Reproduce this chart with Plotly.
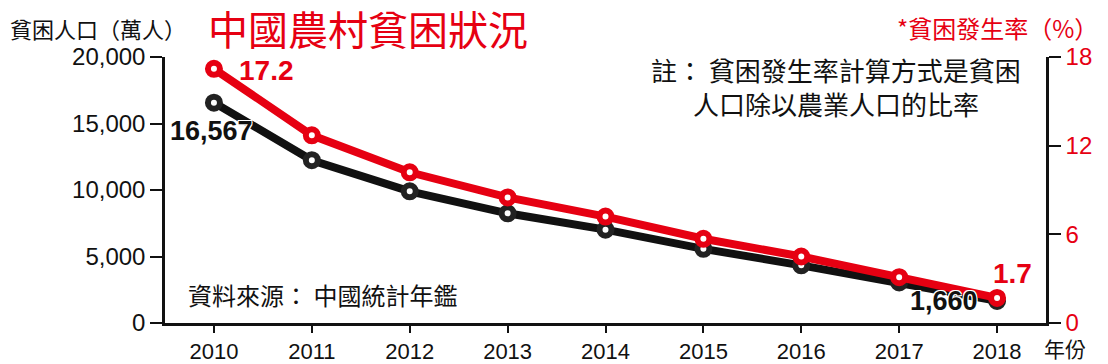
import plotly.graph_objects as go

years = [2010, 2011, 2012, 2013, 2014, 2015, 2016, 2017, 2018]
poverty_pop = [16567, 12238, 9899, 8249, 7017, 5575, 4335, 3046, 1660]
poverty_rate = [17.2, 12.7, 10.2, 8.5, 7.2, 5.7, 4.5, 3.1, 1.7]
left_ticks = [0, 5000, 10000, 15000, 20000]
right_ticks = [0, 6, 12, 18]

RED = "#e60012"
BLACK = "#111111"
W, H = 1108, 364
L, R, T, B = 165, 62, 57, 41
PW, PH = W - L - R, H - T - B

def px(x):
    return (x - L) / PW

def py(y):
    return (H - B - y) / PH

CJK = "Noto Sans CJK TC, sans-serif"
NUM = "Liberation Sans, Arial, sans-serif"
BOLDNUM = "Liberation Sans Narrow, Liberation Sans, Arial, sans-serif"

fig = go.Figure()
fig.add_trace(go.Scatter(
    x=years, y=poverty_pop, mode="lines+markers", yaxis="y",
    line=dict(color=BLACK, width=8),
    marker=dict(symbol="circle", size=12, color="white", line=dict(color="#222222", width=6)),
    hoverinfo="skip", showlegend=False))
fig.add_trace(go.Scatter(
    x=years, y=poverty_rate, mode="lines+markers", yaxis="y2",
    line=dict(color=RED, width=8),
    marker=dict(symbol="circle", size=12, color="white", line=dict(color=RED, width=6)),
    hoverinfo="skip", showlegend=False))

halo = "1px 1px 0px white, -1px -1px 0px white, 1px -1px 0px white, -1px 1px 0px white"
ann = []
# data labels
ann.append(dict(x=years[0], y=poverty_rate[0], xref="x", yref="y2", text="17.2",
                xshift=53, yshift=-2, showarrow=False,
                font=dict(family=BOLDNUM, size=28, color=RED, weight="bold", shadow=halo)))
ann.append(dict(x=years[0], y=poverty_pop[0], xref="x", yref="y", text=f"{poverty_pop[0]:,}",
                xshift=-2, yshift=-28, showarrow=False,
                font=dict(family=BOLDNUM, size=27, color=BLACK, weight="bold", shadow=halo)))
ann.append(dict(x=years[-1], y=poverty_pop[-1], xref="x", yref="y", text=f"{poverty_pop[-1]:,}",
                xshift=-53, yshift=0, showarrow=False,
                font=dict(family=BOLDNUM, size=27, color=BLACK, weight="bold", shadow=halo)))
ann.append(dict(x=years[-1], y=poverty_rate[-1], xref="x", yref="y2", text=f"{poverty_rate[-1]}",
                xshift=15, yshift=24, showarrow=False,
                font=dict(family=BOLDNUM, size=28, color=RED, weight="bold", shadow=halo)))
# titles and notes
ann.append(dict(x=px(8), y=py(28), xref="paper", yref="paper", text="貧困人口（萬人）",
                xanchor="left", yanchor="middle", showarrow=False,
                font=dict(family=CJK, size=22, color=BLACK)))
ann.append(dict(x=px(206), y=py(28), xref="paper", yref="paper", text="中國農村貧困狀況",
                xanchor="left", yanchor="middle", showarrow=False,
                font=dict(family=CJK, size=40, color=RED)))
ann.append(dict(x=px(1100), y=py(28), xref="paper", yref="paper", text="*貧困發生率（%）",
                xanchor="right", yanchor="middle", showarrow=False,
                font=dict(family=CJK, size=24, color=RED)))
ann.append(dict(x=px(836), y=py(86), xref="paper", yref="paper",
                text="註： 貧困發生率計算方式是貧困<br>人口除以農業人口的比率",
                xanchor="center", yanchor="middle", showarrow=False, align="center",
                font=dict(family=CJK, size=26, color=BLACK)))
ann.append(dict(x=px(186), y=py(294), xref="paper", yref="paper", text="資料來源： 中國統計年鑑",
                xanchor="left", yanchor="middle", showarrow=False,
                font=dict(family=CJK, size=24, color=BLACK)))
ann.append(dict(x=px(1042), y=py(348), xref="paper", yref="paper", text="年份",
                xanchor="left", yanchor="middle", showarrow=False,
                font=dict(family=CJK, size=21, color=BLACK)))

fig.update_layout(
    width=W, height=H,
    margin=dict(l=L, r=R, t=T, b=B, autoexpand=False),
    paper_bgcolor="white", plot_bgcolor="white",
    annotations=ann,
    xaxis=dict(range=[2009.5, 2018.5], tickvals=years, ticktext=[str(y) for y in years],
               automargin=False,
               showline=True, linecolor=BLACK, linewidth=2.5, ticks="outside", ticklen=7,
               tickwidth=2, tickcolor=BLACK, showgrid=False, zeroline=False,
               tickfont=dict(family=NUM, size=22, color=BLACK)),
    yaxis=dict(range=[0, 20000], tickvals=left_ticks, tickformat=",", automargin=False,
               showline=True, linecolor=BLACK, linewidth=2.5, ticks="outside", ticklen=12,
               tickwidth=2, tickcolor=BLACK, showgrid=False, zeroline=False,
               tickfont=dict(family=NUM, size=24, color=BLACK)),
    yaxis2=dict(range=[0, 18], tickvals=right_ticks, overlaying="y", side="right",
                automargin=False,
                showline=True, linecolor=BLACK, linewidth=2.5, ticks="outside", ticklen=12,
                tickwidth=2, tickcolor=BLACK, showgrid=False, zeroline=False,
                tickfont=dict(family=NUM, size=24, color=RED)),
)

fig.write_html("out.html", config={"displayModeBar": False},
               post_script="document.body.style.margin='0';document.body.style.overflow='hidden';")
